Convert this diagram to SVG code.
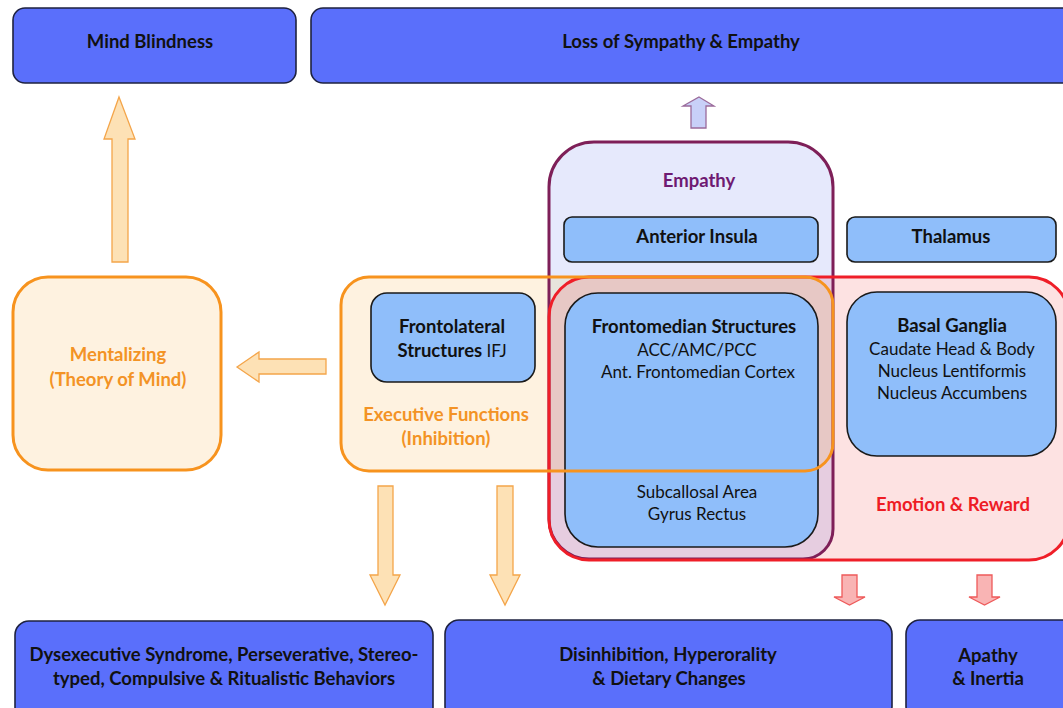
<svg xmlns="http://www.w3.org/2000/svg" width="1063" height="708" viewBox="0 0 1063 708">
<style>
text{font-family:Lato,"Liberation Sans",sans-serif;font-size:17px;text-anchor:middle;fill:#111}
.b{font-weight:bold;font-size:18.5px}
.r{font-weight:normal;font-size:17px}
.sym{fill:#5A6FFB;stroke:#1e2240;stroke-width:1.6}
.reg{fill:#8FBEFA;stroke:#1a1a1a;stroke-width:1.6}
.or{fill:#F39325}
.oarr{fill:#FDE1B5;stroke:#F4A54A;stroke-width:1.3}
.rarr{fill:#F9B4B4;stroke:#EE5A5A;stroke-width:1.3}
.barr{fill:#C8D0F8;stroke:#9A6A9A;stroke-width:1.3}
</style>
<defs>
<clipPath id="cEmp"><path d="M549,187 A45,45 0 0 1 594,142 L788,142 A45,45 0 0 1 833,187 L833,529 A30,30 0 0 1 803,559 L589,559 A40,40 0 0 1 549,519 Z"/></clipPath>
<clipPath id="cOr"><rect x="341" y="277" width="492" height="194" rx="28"/></clipPath>
</defs>
<rect width="1063" height="708" fill="#fff"/>

<g id="fills">
<path d="M549,187 A45,45 0 0 1 594,142 L788,142 A45,45 0 0 1 833,187 L833,529 A30,30 0 0 1 803,559 L589,559 A40,40 0 0 1 549,519 Z" fill="#E6E9FC"/>
<rect x="341" y="277" width="492" height="194" rx="28" fill="#FEF2E0"/>
<rect x="549" y="277" width="520" height="283" rx="40" fill="#FDE2E2"/>
<g clip-path="url(#cEmp)">
<rect x="341" y="277" width="492" height="194" rx="28" fill="#E7E4DC"/>
<rect x="549" y="277" width="520" height="283" rx="40" fill="#E6CDE0"/>
<g clip-path="url(#cOr)"><rect x="549" y="277" width="520" height="283" rx="40" fill="#E7C8C5"/></g>
</g>
</g>

<g id="empathy">
<path d="M549,187 A45,45 0 0 1 594,142 L788,142 A45,45 0 0 1 833,187 L833,529 A30,30 0 0 1 803,559 L589,559 A40,40 0 0 1 549,519 Z" fill="none" stroke="#7E1F58" stroke-width="3"/>
<text x="699" y="187" class="b" style="fill:#6E1A72">Empathy</text>
</g>

<g id="emotion-reward">
<rect x="549" y="277" width="520" height="283" rx="40" fill="none" stroke="#EF1E28" stroke-width="3"/>
<text x="953" y="511" class="b" style="fill:#EE1C25">Emotion &amp; Reward</text>
</g>

<g id="anterior-insula">
<rect x="564" y="217" width="254" height="45" rx="8" class="reg"/>
<text x="697" y="243" class="b">Anterior Insula</text>
</g>

<g id="thalamus">
<rect x="847" y="217" width="209" height="45" rx="8" class="reg"/>
<text x="951" y="243" class="b">Thalamus</text>
</g>

<g id="frontolateral">
<rect x="371" y="293" width="164" height="89" rx="16" class="reg"/>
<text x="452" y="333" class="b">Frontolateral</text>
<text x="452" y="357" class="b">Structures<tspan class="r"> IFJ</tspan></text>
</g>

<g id="frontomedian">
<rect x="565" y="293" width="253" height="254" rx="33" class="reg"/>
<text x="694" y="333" class="b">Frontomedian Structures</text>
<text x="697" y="356" class="r">ACC/AMC/PCC</text>
<text x="698" y="378" class="r">Ant. Frontomedian Cortex</text>
<text x="697" y="498" class="r">Subcallosal Area</text>
<text x="697" y="520" class="r">Gyrus Rectus</text>
</g>

<g id="basal-ganglia">
<rect x="847" y="292" width="209" height="164" rx="30" class="reg"/>
<text x="952" y="332" class="b">Basal Ganglia</text>
<text x="952" y="355" class="r">Caudate Head &amp; Body</text>
<text x="952" y="377" class="r">Nucleus Lentiformis</text>
<text x="952" y="399" class="r">Nucleus Accumbens</text>
</g>

<g id="executive-functions">
<rect x="341" y="277" width="492" height="194" rx="28" fill="none" stroke="#F7931E" stroke-width="3"/>
<text x="446" y="421" class="b or">Executive Functions</text>
<text x="446" y="445" class="b or">(Inhibition)</text>
</g>

<g id="mentalizing">
<rect x="13" y="277" width="208" height="193" rx="35" fill="#FEF2E0" stroke="#F7931E" stroke-width="3"/>
<text x="118" y="361" class="b or">Mentalizing</text>
<text x="118" y="386" class="b or">(Theory of Mind)</text>
</g>

<g id="mind-blindness">
<rect x="13" y="8" width="283" height="75" rx="12" class="sym"/>
<text x="150" y="48" class="b">Mind Blindness</text>
</g>

<g id="loss-sympathy">
<rect x="311" y="8" width="770" height="75" rx="12" class="sym"/>
<text x="681" y="48" class="b">Loss of Sympathy &amp; Empathy</text>
</g>

<g id="dysexecutive">
<rect x="15" y="621" width="418" height="100" rx="14" class="sym"/>
<text x="224" y="661" class="b">Dysexecutive Syndrome, Perseverative, Stereo-</text>
<text x="224" y="685" class="b">typed, Compulsive &amp; Ritualistic Behaviors</text>
</g>

<g id="disinhibition">
<rect x="445" y="620" width="447" height="100" rx="14" class="sym"/>
<text x="668" y="661" class="b">Disinhibition, Hyperorality</text>
<text x="669" y="685" class="b">&amp; Dietary Changes</text>
</g>

<g id="apathy">
<rect x="906" y="620" width="175" height="100" rx="14" class="sym"/>
<text x="988" y="662" class="b">Apathy</text>
<text x="988" y="685" class="b">&amp; Inertia</text>
</g>

<g id="connectors">
<polygon class="oarr" points="119,97 135,139 128,139 128,262 112,262 112,139 104,139"/>
<polygon class="oarr" points="237,367 259,352 259,359 326,359 326,374 259,374 259,382"/>
<polygon class="oarr" points="378,486 393,486 393,575 400,575 385,605 370,575 378,575"/>
<polygon class="oarr" points="497,486 513,486 513,575 520,575 505,605 490,575 497,575"/>
<polygon class="barr" points="699,97 714,106 706,106 706,128 691,128 691,106 683,106"/>
<polygon class="rarr" points="842,575 857,575 857,597 865,597 849.5,605 834,597 842,597"/>
<polygon class="rarr" points="977,575 992,575 992,597 1000,597 984.5,605 969,597 977,597"/>
</g>
</svg>
